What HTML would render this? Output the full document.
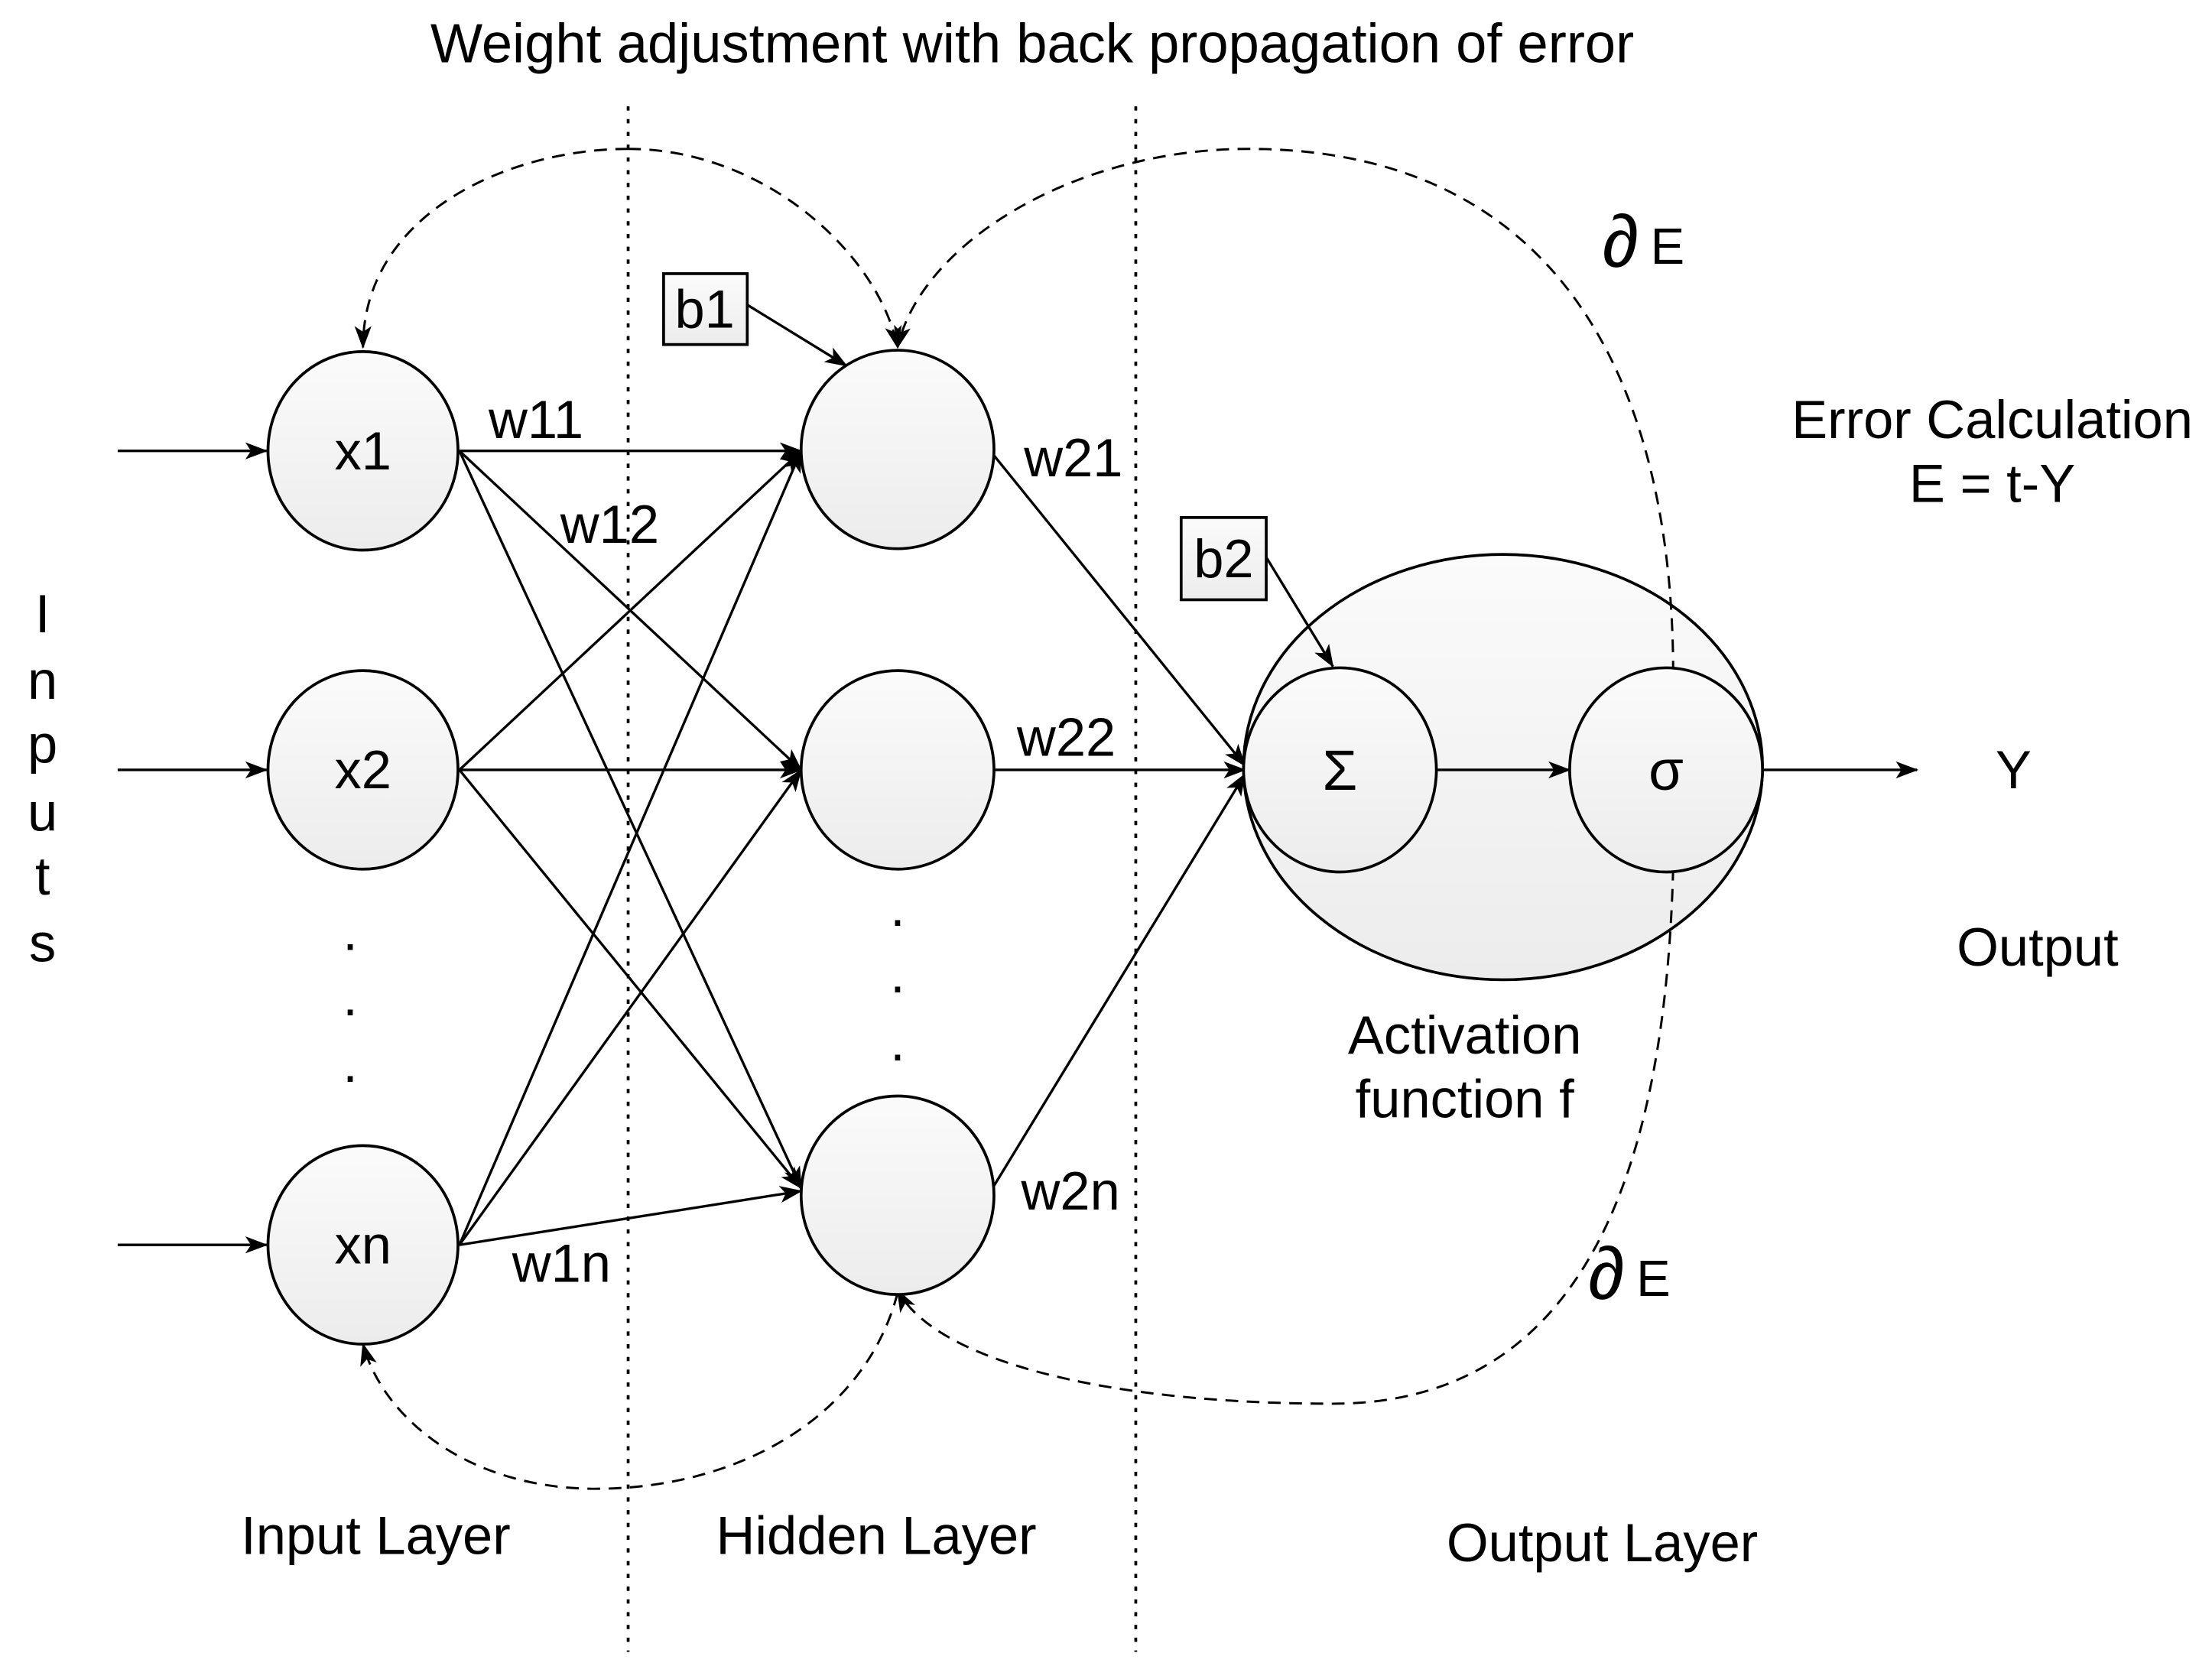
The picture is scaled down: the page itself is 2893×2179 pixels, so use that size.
<!DOCTYPE html>
<html><head><meta charset="utf-8"><style>
html,body{margin:0;padding:0;background:#fff;}
svg{display:block;}
text{font-family:"Liberation Sans",sans-serif;fill:#000;}
</style></head><body>
<svg width="2893" height="2179" viewBox="0 0 1560 1175" preserveAspectRatio="none" xmlns="http://www.w3.org/2000/svg">
<defs>
<linearGradient id="g" x1="0" y1="0" x2="0" y2="1"><stop offset="0" stop-color="#fbfbfb"/><stop offset="1" stop-color="#ececec"/></linearGradient>
<marker id="a" markerWidth="16" markerHeight="12" refX="15" refY="6" orient="auto" markerUnits="userSpaceOnUse"><path d="M0,0 L16,6 L0,12 L4,6 Z" fill="#000"/></marker>
</defs>
<text x="728" y="44" font-size="39" text-anchor="middle">Weight adjustment with back propagation of error</text>
<g stroke="#000" stroke-width="2" stroke-dasharray="3,6">
<line x1="443" y1="75" x2="443" y2="1165"/><line x1="801" y1="75" x2="801" y2="1165"/>
</g>
<ellipse cx="1060" cy="541" rx="183" ry="150" fill="url(#g)" stroke="#000" stroke-width="2"/>
<g fill="none" stroke="#000" stroke-width="1.6" stroke-dasharray="9,6">
<path d="M443,105 C360,105 256,150 256,245" marker-end="url(#a)"/>
<path d="M443,105 C540,105 620,180 633,245" marker-end="url(#a)"/>
<path d="M1180,475 C1180,300 1120,105 880,105 C760,105 650,170 633,245" marker-end="url(#a)"/>
<path d="M1180,612 C1175,800 1130,990 940,990 C780,990 660,960 633,910" marker-end="url(#a)"/>
<path d="M633,912 C610,1000 520,1050 420,1050 C330,1050 270,1000 256,948" marker-end="url(#a)"/>
</g>
<g stroke="#000" stroke-width="1.8" fill="none">
<line x1="83" y1="318" x2="188" y2="318" marker-end="url(#a)"/>
<line x1="83" y1="543" x2="188" y2="543" marker-end="url(#a)"/>
<line x1="83" y1="878" x2="188" y2="878" marker-end="url(#a)"/>
<line x1="324" y1="318" x2="565" y2="318" marker-end="url(#a)"/>
<line x1="324" y1="318" x2="565" y2="543" marker-end="url(#a)"/>
<line x1="324" y1="318" x2="565" y2="838" marker-end="url(#a)"/>
<line x1="324" y1="543" x2="565" y2="318" marker-end="url(#a)"/>
<line x1="324" y1="543" x2="565" y2="543" marker-end="url(#a)"/>
<line x1="324" y1="543" x2="565" y2="838" marker-end="url(#a)"/>
<line x1="324" y1="878" x2="565" y2="318" marker-end="url(#a)"/>
<line x1="324" y1="878" x2="565" y2="543" marker-end="url(#a)"/>
<line x1="324" y1="878" x2="565" y2="840" marker-end="url(#a)"/>
<line x1="700" y1="320" x2="878" y2="540" marker-end="url(#a)"/>
<line x1="700" y1="543" x2="878" y2="543" marker-end="url(#a)"/>
<line x1="700" y1="838" x2="878" y2="546" marker-end="url(#a)"/>
<line x1="1013" y1="543" x2="1107" y2="543" marker-end="url(#a)"/>
<line x1="1243" y1="543" x2="1352" y2="543" marker-end="url(#a)"/>
<line x1="527" y1="215" x2="597" y2="258" marker-end="url(#a)"/>
<line x1="893" y1="393" x2="940" y2="470" marker-end="url(#a)"/>
</g>
<g fill="url(#g)" stroke="#000" stroke-width="2">
<ellipse cx="256" cy="318" rx="67" ry="70"/>
<ellipse cx="256" cy="543" rx="67" ry="70"/>
<ellipse cx="256" cy="878" rx="67" ry="70"/>
<ellipse cx="633" cy="317" rx="68" ry="70"/>
<ellipse cx="633" cy="543" rx="68" ry="70"/>
<ellipse cx="633" cy="843" rx="68" ry="70"/>
<ellipse cx="945" cy="543" rx="68" ry="72"/>
<ellipse cx="1175" cy="543" rx="68" ry="72"/>
<rect x="468" y="193" width="59" height="50"/>
<rect x="833" y="365" width="60" height="58"/>
</g>
<g font-size="38" text-anchor="middle">
<text x="256" y="331">x1</text><text x="256" y="556">x2</text><text x="256" y="891">xn</text>
<text x="497" y="231">b1</text><text x="863" y="407">b2</text>
<text x="378" y="309">w11</text><text x="430" y="383">w12</text>
<text x="757" y="336">w21</text><text x="752" y="533">w22</text>
<text x="755" y="853">w2n</text><text x="396" y="904">w1n</text>
<text x="945" y="557" font-family="Liberation Serif,serif" font-size="40">Σ</text>
<text x="1175" y="557" font-family="Liberation Serif,serif" font-size="40">σ</text>
<text x="1420" y="556">Y</text>
<text x="1437" y="681">Output</text>
<text x="1405" y="309">Error Calculation</text>
<text x="1405" y="354">E = t-Y</text>
<text x="1033" y="743">Activation</text>
<text x="1033" y="788">function f</text>
<text x="265" y="1096">Input Layer</text>
<text x="618" y="1096">Hidden Layer</text>
<text x="1130" y="1101">Output Layer</text>
<text x="30" y="446">I</text><text x="30" y="493">n</text><text x="30" y="538">p</text>
<text x="30" y="586">u</text><text x="30" y="631">t</text><text x="30" y="678">s</text>
<text x="247" y="670">.</text><text x="247" y="716">.</text><text x="247" y="763">.</text>
<text x="633" y="653">.</text><text x="633" y="700">.</text><text x="633" y="748">.</text>
</g>
<text x="1130" y="188" font-size="52" font-family="DejaVu Serif,serif" font-style="italic">∂</text>
<text x="1164" y="186" font-size="36">E</text>
<text x="1120" y="916" font-size="52" font-family="DejaVu Serif,serif" font-style="italic">∂</text>
<text x="1154" y="914" font-size="36">E</text>
</svg>
</body></html>
